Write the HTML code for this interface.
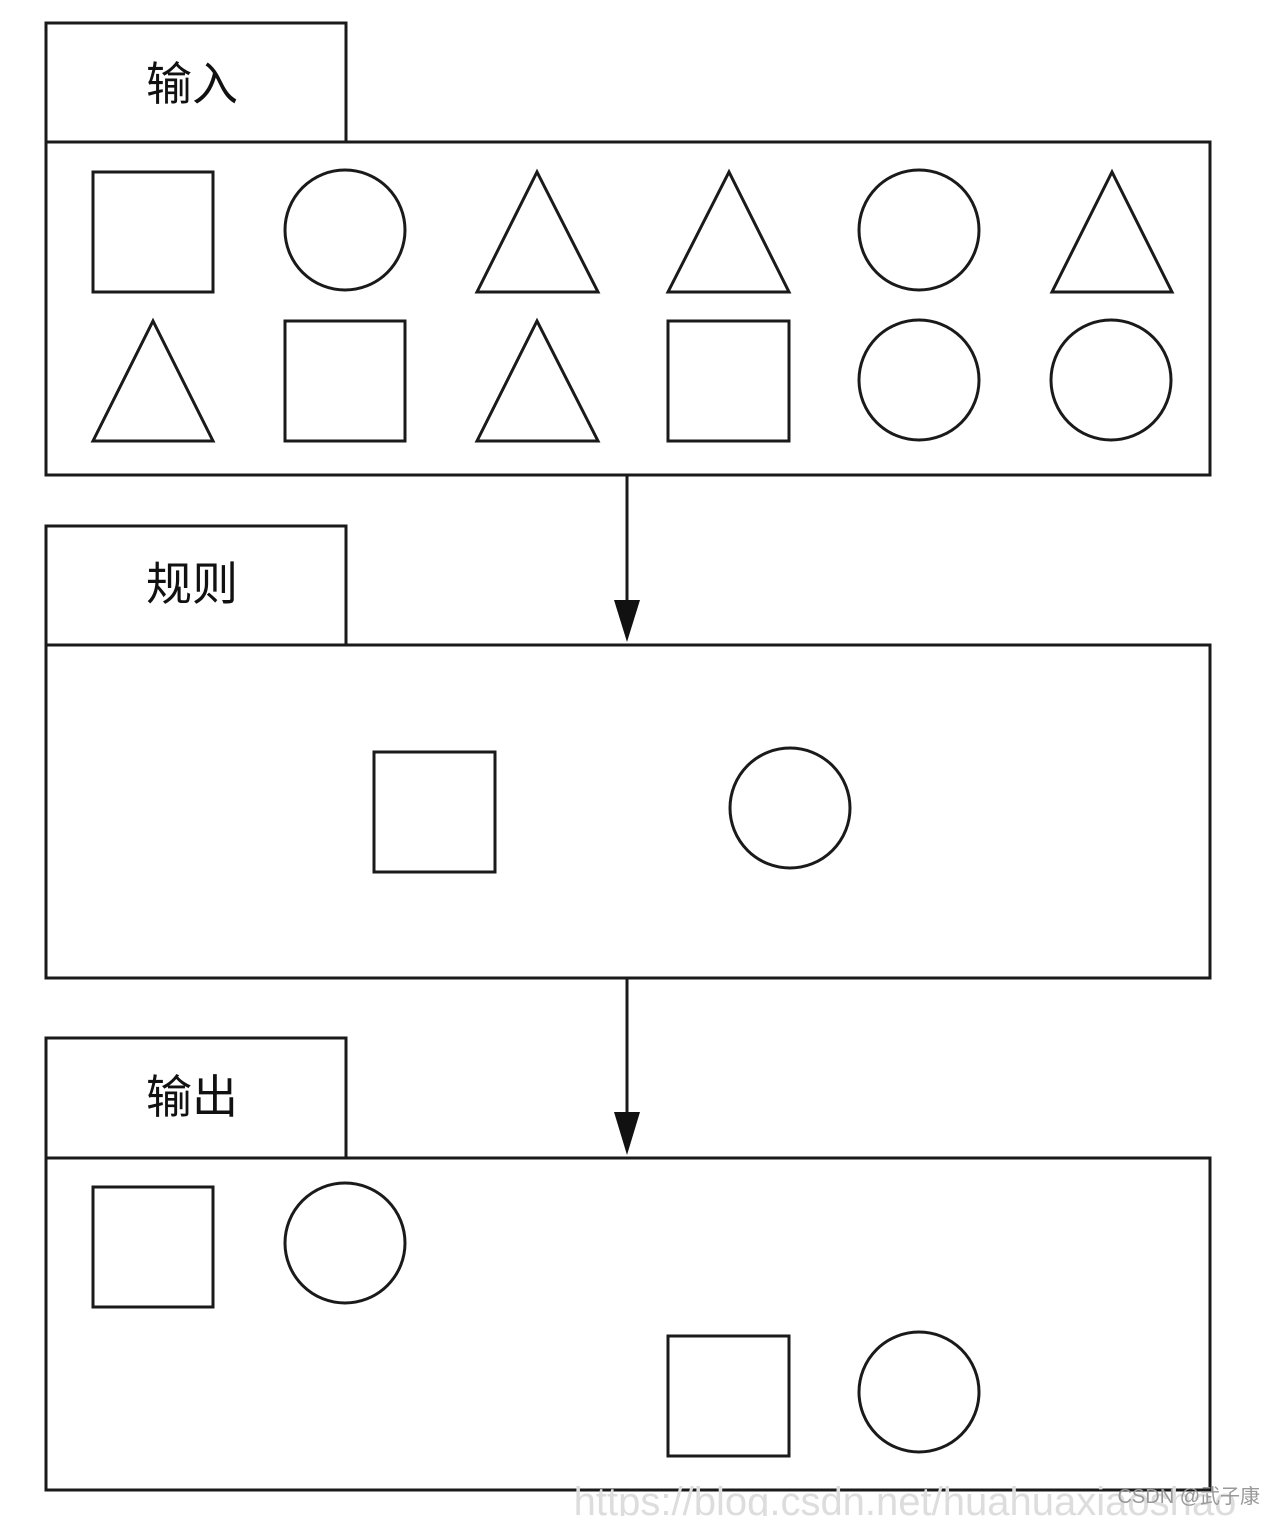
<!DOCTYPE html>
<html><head><meta charset="utf-8"><style>
html,body{margin:0;padding:0;background:#fff;width:1264px;height:1516px;overflow:hidden}
</style></head><body>
<svg width="1264" height="1516" viewBox="0 0 1264 1516" xmlns="http://www.w3.org/2000/svg">
<g fill="none" stroke="#1a1a1a" stroke-width="3">
<rect x="46" y="23" width="300" height="119"/>
<rect x="46" y="142" width="1164" height="333"/>
<rect x="93" y="172" width="120" height="120"/>
<circle cx="345" cy="230" r="60"/>
<polygon points="477,292 598,292 537,172"/>
<polygon points="668,292 789,292 729,172"/>
<circle cx="919" cy="230" r="60"/>
<polygon points="1052,292 1172,292 1112,172"/>
<polygon points="93,441 213,441 153,321"/>
<rect x="285" y="321" width="120" height="120"/>
<polygon points="477,441 598,441 537,321"/>
<rect x="668" y="321" width="121" height="120"/>
<circle cx="919" cy="380" r="60"/>
<circle cx="1111" cy="380" r="60"/>
<line x1="627" y1="475" x2="627" y2="605"/>
<rect x="46" y="526" width="300" height="119"/>
<rect x="46" y="645" width="1164" height="333"/>
<rect x="374" y="752" width="121" height="120"/>
<circle cx="790" cy="808" r="60"/>
<line x1="627" y1="978" x2="627" y2="1115"/>
<rect x="46" y="1038" width="300" height="120"/>
<rect x="46" y="1158" width="1164" height="332"/>
<rect x="93" y="1187" width="120" height="120"/>
<circle cx="345" cy="1243" r="60"/>
<rect x="668" y="1336" width="121" height="120"/>
<circle cx="919" cy="1392" r="60"/>
</g>
<polygon points="614,600 640,600 627,642" fill="#111"/>
<polygon points="614,1112 640,1112 627,1155" fill="#111"/>
<g font-family="'Liberation Sans','Noto Sans CJK SC',sans-serif" font-size="46" fill="#111" text-anchor="middle">
<text x="192" y="100">输入</text>
<text x="192" y="600">规则</text>
<text x="192" y="1113">输出</text>
</g>
<text x="905" y="1515" font-family="'Liberation Sans',sans-serif" font-size="40" fill="#ddd" text-anchor="middle">https://blog.csdn.net/huahuaxiaoshao</text>
<text x="1260" y="1503" font-family="'Liberation Sans','Noto Sans CJK SC',sans-serif" font-size="20" fill="#999" text-anchor="end">CSDN @武子康</text>
</svg>
</body></html>
